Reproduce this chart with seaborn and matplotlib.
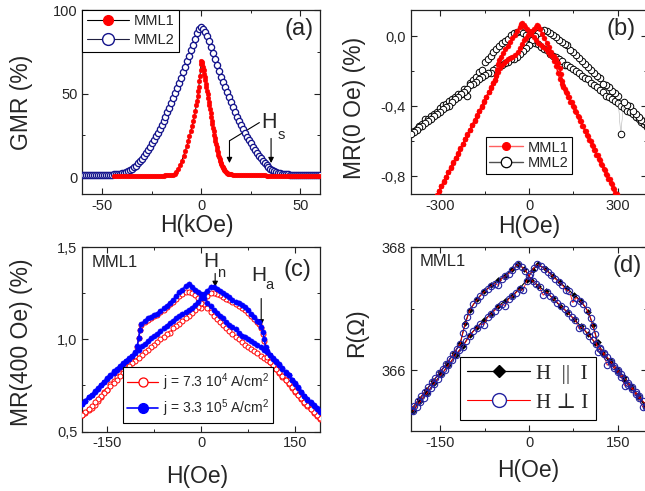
import numpy as np
import matplotlib
matplotlib.use("Agg")
import matplotlib.pyplot as plt
from matplotlib.lines import Line2D
from matplotlib.ticker import MultipleLocator, FuncFormatter
import seaborn as sns

# ---------------- data ----------------
# (a) GMR vs field, kOe
a_mml2_h = list(range(-60, 61))
a_mml2_gmr = [1.1, 1.1, 1.2, 1.2, 1.2, 1.3, 1.3, 1.3, 1.4, 1.4,
              1.4, 1.5, 1.5, 1.5, 1.6, 1.6, 1.7, 1.8, 1.9, 2.1,
              2.3, 2.6, 3.0, 3.5, 4.2, 5.0, 5.9, 7.0, 8.3, 9.7,
              11.2, 12.8, 14.5, 16.4, 18.3, 20.3, 22.3, 24.4, 26.5, 28.8,
              31.1, 33.6, 36.1, 38.9, 41.7, 44.6, 47.6, 50.6, 53.6, 56.6,
              59.6, 62.7, 66.0, 69.3, 72.6, 76.0, 79.3, 82.8, 86.0, 88.4,
              89.6,
              88.8, 87.0, 84.4, 81.2, 77.7, 74.1, 70.6, 67.1, 63.6, 60.2,
              57.0, 53.9, 50.9, 47.9, 44.9, 41.9, 39.0, 36.1, 33.5, 31.0,
              28.6, 26.4, 24.3, 22.3, 20.3, 18.3, 16.4, 14.6, 12.9, 11.3,
              9.8, 8.4, 7.1, 6.0, 5.0, 4.2, 3.5, 3.0, 2.6, 2.3,
              2.1, 1.9, 1.8, 1.7, 1.6, 1.6, 1.5, 1.5, 1.5, 1.4,
              1.4, 1.4, 1.3, 1.3, 1.3, 1.2, 1.2, 1.2, 1.1, 1.1]

a_mml1_h = (list(range(-44, -14))
            + [-14.3, -13.4, -12.6, -11.6, -10.6, -9.8, -8.9, -8.0, -7.2, -6.5,
               -5.9, -5.2, -4.5, -3.9, -3.4, -2.9, -2.5, -2.1, -1.7, -1.4,
               -1.2, -0.9, -0.6, -0.3, -0.1]
            + [0.1, 0.3, 0.6, 0.9, 1.2, 1.5, 1.8, 2.1, 2.4, 2.7,
               3.0, 3.3, 3.6, 3.9, 4.2, 4.5, 4.8, 5.1, 5.4, 5.7,
               6.0, 6.3, 6.6, 6.9, 7.2, 7.5, 7.8, 8.1, 8.4, 8.7,
               9.0, 9.3, 9.6, 9.9, 10.2, 10.5, 10.8, 11.1, 11.4, 11.7,
               12.0, 12.4, 12.8, 13.2, 13.6, 14.0, 14.5, 15.0]
            + list(range(16, 61)))
a_mml1_gmr = ([0.5, 0.5, 0.6, 0.6, 0.6, 0.6, 0.7, 0.7, 0.7, 0.7,
               0.7, 0.8, 0.8, 0.8, 0.8, 0.8, 0.8, 0.9, 0.9, 0.9,
               0.9, 0.9, 1.0, 1.0, 1.0, 1.0, 1.1, 1.1, 1.2, 1.3]
              + [1.4, 2.2, 3.0, 5.0, 7.3, 10.0, 12.9, 15.8, 18.8, 21.8,
                 24.8, 27.8, 30.7, 33.7, 36.7, 39.8, 43.0, 45.8, 48.6, 51.5,
                 54.2, 57.5, 60.5, 64.0, 67.5]
              + [69.8, 69.0, 67.6, 66.0, 64.0, 62.0, 60.0, 58.0, 56.0, 54.0,
                 51.8, 49.6, 47.4, 45.2, 43.0, 40.7, 38.4, 36.1, 33.8, 31.6,
                 29.5, 27.4, 25.4, 23.4, 21.5, 19.7, 18.0, 16.4, 14.9, 13.5,
                 12.2, 11.0, 9.9, 8.8, 7.9, 7.0, 6.2, 5.5, 4.8, 4.2,
                 3.7, 3.2, 2.8, 2.5, 2.2, 2.0, 1.8, 1.7]
              + [1.6, 1.6, 1.5, 1.5, 1.5, 1.4, 1.4, 1.4, 1.3, 1.3,
                 1.3, 1.2, 1.2, 1.2, 1.1, 1.1, 1.1, 1.0, 1.0, 1.0,
                 1.0, 0.9, 0.9, 0.9, 0.9, 0.8, 0.8, 0.8, 0.8, 0.8,
                 0.7, 0.7, 0.7, 0.7, 0.7, 0.6, 0.6, 0.6, 0.6, 0.6,
                 0.6, 0.5, 0.5, 0.5, 0.5])

# (b) MR at low field, Oe
b_mml1_up_h = (list(range(-320, -119, 8)) + [-115, -112, -109, -106, -103]
               + list(range(-96, -31, 8)) + [-26, -24, -18, -12, -6, 0]
               + list(range(8, 81, 8)) + [86, 92, 98, 104, 110, 116]
               + list(range(124, 309, 8)))
b_mml1_up_mr = [-0.937, -0.910, -0.883, -0.856, -0.830, -0.803, -0.776, -0.749, -0.722, -0.696,
                -0.669, -0.642, -0.615, -0.588, -0.562, -0.535, -0.508, -0.481, -0.454, -0.428,
                -0.401, -0.374, -0.347, -0.320, -0.294, -0.267,
                -0.250, -0.220, -0.190, -0.160, -0.135,
                -0.117, -0.096, -0.075, -0.054, -0.033, -0.012, 0.009, 0.030, 0.052,
                0.068, 0.075, 0.065, 0.052, 0.040, 0.028,
                0.012, -0.004, -0.020, -0.036, -0.050, -0.062, -0.075, -0.090, -0.105, -0.120,
                -0.140, -0.170, -0.210, -0.245, -0.270, -0.290,
                -0.318, -0.345, -0.373, -0.400, -0.428, -0.455, -0.483, -0.510, -0.538, -0.566,
                -0.593, -0.620, -0.648, -0.676, -0.703, -0.730, -0.758, -0.786, -0.813, -0.840,
                -0.868, -0.896, -0.923, -0.950]
b_mml1_dn_h = (list(range(312, 119, -8)) + [116, 112, 108, 104, 98, 92, 84]
               + list(range(76, 35, -8)) + [30, 28]
               + [22, 16, 10, 3, -4, -10, -16, -24, -30, -38, -47, -56, -64, -70,
                  -78, -86, -92, -98, -104, -110, -115]
               + list(range(-120, -321, -8)))
b_mml1_dn_mr = [-0.955, -0.927, -0.900, -0.872, -0.845, -0.817, -0.789, -0.762, -0.734, -0.707,
                -0.679, -0.651, -0.624, -0.596, -0.569, -0.541, -0.514, -0.486, -0.458, -0.431,
                -0.403, -0.376, -0.348, -0.321, -0.300,
                -0.285, -0.255, -0.215, -0.180, -0.150, -0.130, -0.112,
                -0.088, -0.062, -0.036, -0.010, 0.015, 0.040,
                0.056, 0.062,
                0.052, 0.042, 0.033, 0.024, 0.008, -0.008, -0.024, -0.045, -0.066, -0.088,
                -0.106, -0.117, -0.124, -0.132, -0.142, -0.154, -0.165, -0.183, -0.203, -0.225,
                -0.248,
                -0.265, -0.291, -0.318, -0.345, -0.372, -0.399, -0.425, -0.452, -0.479, -0.506,
                -0.533, -0.559, -0.586, -0.613, -0.640, -0.667, -0.693, -0.720, -0.747, -0.774,
                -0.801, -0.827, -0.854, -0.881, -0.908, -0.935]

b_mml2_up_h = list(range(-400, 401, 10))
b_mml2_up_mr = [-0.552, -0.538, -0.530, -0.512, -0.498, -0.470, -0.472, -0.455, -0.442, -0.430,
                -0.412, -0.392, -0.385, -0.372, -0.360, -0.345, -0.330, -0.330, -0.298, -0.340,
                -0.268, -0.250, -0.232, -0.205, -0.190, -0.145, -0.130, -0.112, -0.090, -0.072,
                -0.055, -0.040, -0.026, -0.015, 0.006, 0.016, 0.024, 0.030, 0.020, 0.006,
                -0.010, -0.024, -0.036, -0.045, -0.060, -0.074, -0.080, -0.100, -0.110, -0.120,
                -0.130, -0.140, -0.162, -0.165, -0.176, -0.188, -0.200, -0.212, -0.224, -0.236,
                -0.242, -0.264, -0.278, -0.290, -0.304, -0.318, -0.338, -0.344, -0.356, -0.370,
                -0.382, -0.396, -0.410, -0.428, -0.434, -0.446, -0.460, -0.474, -0.490, -0.500,
                -0.515]
b_mml2_dn_h = list(range(400, -401, -10))
b_mml2_dn_mr = [-0.502, -0.486, -0.476, -0.458, -0.444, -0.426, -0.400, -0.390, -0.376, -0.560,
                -0.340, -0.326, -0.310, -0.290, -0.276, -0.270, -0.240, -0.226, -0.210, -0.190,
                -0.176, -0.160, -0.140, -0.126, -0.106, -0.090, -0.076, -0.052, -0.046, -0.030,
                -0.020, -0.006, 0.010, 0.020, 0.030, 0.035, 0.030, 0.018, 0.000, -0.022,
                -0.052, -0.068, -0.084, -0.100, -0.116, -0.128, -0.128, -0.146, -0.155, -0.164,
                -0.172, -0.180, -0.190, -0.210, -0.210, -0.222, -0.235, -0.246, -0.260, -0.272,
                -0.276, -0.300, -0.316, -0.330, -0.345, -0.360, -0.374, -0.398, -0.404, -0.416,
                -0.430, -0.446, -0.456, -0.470, -0.486, -0.496, -0.510, -0.520, -0.536, -0.546,
                -0.560]

# (c) MR(400 Oe), two current densities
c_up_h = list(range(-190, -105, 5)) + [-105, -102, -100, -98, -96] + list(range(-90, 191, 5))
c_dn_h = list(range(190, 105, -5)) + [105, 103, 101, 99, 96, 92] + list(range(90, -191, -5))
c_hi_up = [0.650, 0.665, 0.690, 0.697, 0.715, 0.730, 0.750, 0.770, 0.790, 0.805,
           0.830, 0.840, 0.857, 0.870, 0.885, 0.900, 0.912,
           0.930, 0.965, 1.005, 1.050, 1.085,
           1.100, 1.118, 1.120, 1.130, 1.140, 1.155, 1.170, 1.180, 1.200, 1.215,
           1.235, 1.255, 1.270, 1.290, 1.300,
           1.285, 1.270, 1.255, 1.245, 1.225, 1.200, 1.180, 1.162, 1.145, 1.125,
           1.115, 1.095, 1.080, 1.065, 1.055, 1.035, 1.020, 1.012, 1.000, 0.990,
           0.980, 0.970, 0.958, 0.945, 0.930,
           0.915, 0.895, 0.880, 0.863, 0.840, 0.820, 0.805, 0.777, 0.757, 0.735,
           0.712, 0.695, 0.673, 0.655, 0.640, 0.622, 0.605]
c_hi_dn = [0.612, 0.628, 0.645, 0.660, 0.678, 0.695, 0.717, 0.740, 0.762, 0.782,
           0.805, 0.825, 0.845, 0.868, 0.885, 0.900, 0.918,
           0.935, 0.960, 1.000, 1.040, 1.070, 1.094,
           1.100, 1.120, 1.140, 1.158, 1.176, 1.185, 1.195, 1.205, 1.215, 1.228,
           1.240, 1.250, 1.262, 1.272, 1.282, 1.285,
           1.265, 1.245, 1.225, 1.205, 1.185, 1.172, 1.160, 1.150, 1.140, 1.125,
           1.115, 1.100, 1.090, 1.075, 1.060, 1.045, 1.030, 1.020, 1.005, 0.990,
           0.975, 0.965, 0.945, 0.925, 0.910,
           0.896, 0.882, 0.868, 0.852, 0.835, 0.818, 0.800, 0.786, 0.768, 0.752,
           0.735, 0.718, 0.700, 0.685, 0.668, 0.652]
c_lo_up = [0.590, 0.600, 0.615, 0.630, 0.645, 0.665, 0.690, 0.715, 0.725, 0.758,
           0.775, 0.795, 0.815, 0.830, 0.850, 0.868, 0.885,
           0.910, 0.960, 1.010, 1.050, 1.080,
           1.095, 1.105, 1.115, 1.125, 1.135, 1.148, 1.160, 1.175, 1.190, 1.205,
           1.220, 1.235, 1.248, 1.258, 1.260,
           1.250, 1.240, 1.225, 1.170, 1.190, 1.168, 1.148, 1.128, 1.110, 1.095,
           1.078, 1.060, 1.045, 1.030, 1.015, 1.000, 0.985, 0.972, 0.960, 0.948,
           0.935, 0.925, 0.912, 0.900, 0.890,
           0.878, 0.862, 0.840, 0.818, 0.798, 0.778, 0.757, 0.737, 0.717, 0.697,
           0.677, 0.655, 0.638, 0.620, 0.602, 0.586, 0.570]
c_lo_dn = [0.575, 0.590, 0.606, 0.624, 0.642, 0.660, 0.680, 0.700, 0.720, 0.740,
           0.762, 0.782, 0.800, 0.822, 0.842, 0.862, 0.880,
           0.905, 0.945, 0.990, 1.030, 1.060, 1.085,
           1.092, 1.110, 1.128, 1.145, 1.160, 1.172, 1.182, 1.192, 1.202, 1.212,
           1.222, 1.232, 1.240, 1.248, 1.252, 1.250,
           1.235, 1.215, 1.195, 1.175, 1.158, 1.142, 1.128, 1.115, 1.100, 1.085,
           1.072, 1.060, 1.035, 1.030, 1.015, 1.000, 0.985, 0.972, 0.958, 0.945,
           0.930, 0.915, 0.900, 0.885, 0.872,
           0.855, 0.838, 0.820, 0.800, 0.782, 0.764, 0.745, 0.728, 0.710, 0.692,
           0.675, 0.658, 0.640, 0.624, 0.608, 0.592]

# (d) resistance, two field orientations
d_up_h = (list(range(-200, -115, 6)) + [-112, -108, -104, -100]
          + list(range(-94, -17, 6)) + [-18] + list(range(-12, 199, 6)))
d_dn_h = (list(range(198, 115, -6)) + [116, 112, 108, 104]
          + list(range(98, 13, -6)) + list(range(8, -113, -6)) + list(range(-118, -201, -6)))
d_perp_up = [365.35, 365.42, 365.50, 365.57, 365.65, 365.72, 365.80, 365.87, 365.95, 366.02,
             366.10, 366.18, 366.26, 366.35, 366.43,
             366.60, 366.74, 366.86, 366.97,
             367.07, 367.14, 367.21, 367.27, 367.32, 367.37, 367.41, 367.38, 367.49, 367.53,
             367.57, 367.63, 367.70,
             367.72,
             367.68, 367.62, 367.54, 367.45, 367.40, 367.35, 367.22, 367.27, 367.21, 367.15,
             367.10, 367.04, 366.99, 366.93, 366.87, 366.82, 366.68, 366.70, 366.63, 366.56,
             366.49, 366.42, 366.34, 366.26, 366.08, 366.11, 366.03, 365.96, 365.89, 365.74,
             365.76, 365.69, 365.61, 365.54, 365.40, 365.39]
d_perp_dn = [365.42, 365.50, 365.57, 365.64, 365.72, 365.79, 365.86, 365.93, 366.00, 366.07,
             366.14, 366.21, 366.28, 366.36,
             366.30, 366.58, 366.72, 366.85,
             366.98, 367.07, 367.13, 367.18, 367.10, 367.29, 367.30, 367.39, 367.44, 367.49,
             367.55, 367.60, 367.65, 367.69, 367.72,
             367.66, 367.56, 367.45, 367.30, 367.32, 367.26, 367.20, 367.16, 367.05, 367.07,
             367.03, 366.97, 366.91, 366.86, 366.74, 366.75, 366.69, 366.63, 366.56, 366.47,
             366.38,
             366.32, 366.24, 366.16, 366.08, 366.00, 365.93, 365.85, 365.78, 365.70, 365.63,
             365.55, 365.48, 365.40, 365.33]
d_par_up_h = [-198, -186, -174, -162, -150, -138, -126, -116, -108, -100, -88, -76, -64, -52,
              -40, -28, -18, -8, 4, 16, 28, 40, 52, 64, 76, 88, 100, 112, 124, 136, 148, 160,
              172, 184, 196]
d_par_up = [365.37, 365.52, 365.67, 365.82, 365.97, 366.12, 366.28, 366.44, 366.76, 366.98,
            367.15, 367.28, 367.38, 367.46, 367.54, 367.64, 367.72, 367.65, 367.47, 367.37,
            367.28, 367.17, 367.05, 366.95, 366.83, 366.71, 366.58, 366.44, 366.28, 366.13,
            365.98, 365.84, 365.71, 365.56, 365.42]
d_par_dn_h = [196, 184, 172, 160, 148, 136, 124, 116, 108, 100, 88, 76, 64, 52, 40, 28, 16, 6,
              -4, -16, -28, -40, -52, -64, -76, -88, -100, -112, -124, -136, -148, -160, -172,
              -184, -196]
d_par_dn = [365.44, 365.59, 365.74, 365.88, 366.02, 366.16, 366.30, 366.45, 366.73, 366.95,
            367.12, 367.23, 367.33, 367.43, 367.54, 367.64, 367.72, 367.63, 367.46, 367.33,
            367.21, 367.13, 367.04, 366.92, 366.81, 366.70, 366.57, 366.39, 366.24, 366.08,
            365.93, 365.79, 365.63, 365.49, 365.34]

# ---------------- style ----------------
sns.set_theme(style="ticks")
plt.rcParams["font.family"] = ["Liberation Sans", "DejaVu Sans"]
plt.rcParams["axes.unicode_minus"] = False
plt.rcParams["mathtext.default"] = "regular"

W, H = 645, 491
fig = plt.figure(figsize=(W / 100, H / 100), dpi=100)
fig.patch.set_facecolor("white")


def px_axes(left, top, right, bottom):
    return fig.add_axes([left / W, 1 - bottom / H, (right - left) / W, (bottom - top) / H])


ax_a = px_axes(82.3, 10, 320, 194)
ax_b = px_axes(410.6, 10, 647.4, 194)
ax_c = px_axes(82.3, 247.3, 320, 431.5)
ax_d = px_axes(410.6, 247.3, 647.4, 431.4)

comma = FuncFormatter(lambda v, p: f"{v:.1f}".replace(".", ","))
plain = FuncFormatter(lambda v, p: f"{v:.0f}")

for ax in (ax_a, ax_b, ax_c, ax_d):
    ax.set_facecolor("white")
    for s in ax.spines.values():
        s.set_color("#222222")
        s.set_linewidth(0.9)
    ax.tick_params(which="both", direction="in", top=True, right=True,
                   color="#222222", labelsize=10.5, pad=3.5)
    ax.tick_params(which="major", length=4, width=0.8)
    ax.tick_params(which="minor", length=2.3, width=0.7)
    ax.grid(False)


def trace(ax, h, v, **kw):
    sns.lineplot(x=h, y=v, ax=ax, sort=False, estimator=None, legend=False, **kw)


# ---------------- (a) ----------------
NAVY = "#14148c"
trace(ax_a, a_mml2_h, a_mml2_gmr, color="#202040", linewidth=0.6, marker="o",
      markersize=4.5, markerfacecolor="white", markeredgecolor=NAVY, markeredgewidth=0.95, zorder=3)
trace(ax_a, a_mml1_h, a_mml1_gmr, color="black", linewidth=0.7, marker="o",
      markersize=3.4, markerfacecolor="red", markeredgecolor="red", markeredgewidth=0.3, zorder=4)
ax_a.set_xlim(-60, 60)
ax_a.set_ylim(-10, 100)
ax_a.xaxis.set_major_locator(MultipleLocator(50))
ax_a.xaxis.set_minor_locator(MultipleLocator(25))
ax_a.yaxis.set_major_locator(MultipleLocator(50))
ax_a.yaxis.set_minor_locator(MultipleLocator(25))
ax_a.xaxis.set_major_formatter(plain)
ax_a.yaxis.set_major_formatter(plain)
ax_a.set_xlabel("")
ax_a.set_ylabel("")
leg_a = ax_a.legend(
    handles=[Line2D([], [], color="black", lw=0.8, marker="o", ms=7, mfc="red", mec="red"),
             Line2D([], [], color="#202040", lw=0.8, marker="o", ms=8.5, mfc="white",
                    mec=NAVY, mew=1.0)],
    labels=["MML1", "MML2"], loc="upper left", bbox_to_anchor=(0, 1), borderaxespad=0,
    fontsize=10.5, handlelength=2.9, handletextpad=0.35, labelspacing=0.35, borderpad=0.3,
    fancybox=False, framealpha=1, edgecolor="black")
leg_a.get_frame().set_linewidth(0.8)

# H_s markers
ax_a.text(34.4, 32.9, "H", fontsize=15.5, ha="center", va="center")
ax_a.text(40.3, 25.0, "s", fontsize=10.5, ha="center", va="center")
ax_a.plot([29.4, 14.3], [32.7, 21.8], color="black", lw=0.8)
for xa, y0 in ((14.3, 21.8), (35.3, 23.2)):
    ax_a.annotate("", xy=(xa, 8.5), xytext=(xa, y0),
                  arrowprops=dict(arrowstyle="-|>", color="black", lw=0.8,
                                  mutation_scale=8, shrinkA=0, shrinkB=0))

# ---------------- (b) ----------------
for h, v in ((b_mml2_up_h, b_mml2_up_mr), (b_mml2_dn_h, b_mml2_dn_mr)):
    trace(ax_b, h, v, color="#9a9a9a", linewidth=0.3, marker="o", markersize=4.7,
          markerfacecolor="white", markeredgecolor="black", markeredgewidth=0.7, zorder=3)
for h, v in ((b_mml1_up_h, b_mml1_up_mr), (b_mml1_dn_h, b_mml1_dn_mr)):
    trace(ax_b, h, v, color="red", linewidth=1.0, marker="o", markersize=3.6,
          markerfacecolor="red", markeredgecolor="red", markeredgewidth=0.3, zorder=4)
ax_b.set_xlim(-400, 400)
ax_b.set_ylim(-0.9, 0.15)
ax_b.xaxis.set_major_locator(MultipleLocator(300))
ax_b.xaxis.set_minor_locator(MultipleLocator(150))
ax_b.yaxis.set_major_locator(MultipleLocator(0.4))
ax_b.yaxis.set_minor_locator(MultipleLocator(0.2))
ax_b.xaxis.set_major_formatter(plain)
ax_b.yaxis.set_major_formatter(comma)
ax_b.set_xlabel("")
ax_b.set_ylabel("")
leg_b = ax_b.legend(
    handles=[Line2D([], [], color="#ff6060", lw=1.0, marker="o", ms=5.5, mfc="red", mec="red"),
             Line2D([], [], color="#505050", lw=1.0, marker="o", ms=7.5, mfc="white",
                    mec="black", mew=0.9)],
    labels=["MML1", "MML2"], loc="lower left", bbox_to_anchor=(0.317, 0.109), borderaxespad=0,
    fontsize=10.5, handlelength=2.3, handletextpad=0.35, labelspacing=0.12, borderpad=0.25,
    fancybox=False, framealpha=1, edgecolor="black")
leg_b.get_frame().set_linewidth(0.8)

# ---------------- (c) ----------------
for h, v in ((c_up_h, c_lo_up), (c_dn_h, c_lo_dn)):
    trace(ax_c, h, v, color="red", linewidth=0.7, marker="o", markersize=3.6,
          markerfacecolor="white", markeredgecolor="red", markeredgewidth=0.7, zorder=3)
for h, v in ((c_up_h, c_hi_up), (c_dn_h, c_hi_dn)):
    trace(ax_c, h, v, color="blue", linewidth=1.2, marker="o", markersize=3.8,
          markerfacecolor="blue", markeredgecolor="blue", markeredgewidth=0.3, zorder=4)
ax_c.set_xlim(-190, 190)
ax_c.set_ylim(0.5, 1.5)
ax_c.xaxis.set_major_locator(MultipleLocator(150))
ax_c.xaxis.set_minor_locator(MultipleLocator(75))
ax_c.yaxis.set_major_locator(MultipleLocator(0.5))
ax_c.yaxis.set_minor_locator(MultipleLocator(0.25))
ax_c.xaxis.set_major_formatter(plain)
ax_c.yaxis.set_major_formatter(comma)
ax_c.set_xlabel("")
ax_c.set_ylabel("")
leg_c = ax_c.legend(
    handles=[Line2D([], [], color="red", lw=0.9, marker="o", ms=6.5, mfc="white", mec="red",
                    mew=0.9),
             Line2D([], [], color="blue", lw=1.2, marker="o", ms=7, mfc="blue", mec="blue")],
    labels=[r"j = 7.3 10$^{4}$ A/cm$^{2}$", r"j = 3.3 10$^{5}$ A/cm$^{2}$"],
    loc="lower left", bbox_to_anchor=(0.1725, 0.0445), borderaxespad=0,
    fontsize=10, handlelength=2.2, handletextpad=0.35, labelspacing=0.35, borderpad=0.3,
    fancybox=False, framealpha=1, edgecolor="black")
leg_c.get_frame().set_linewidth(0.8)
ax_c.text(0.04, 0.918, "MML1", transform=ax_c.transAxes, fontsize=12, ha="left", va="center")
ax_c.text(16, 1.425, "H", fontsize=15, ha="center", va="center")
ax_c.text(31.2, 1.36, "n", fontsize=10.5, ha="center", va="center")
ax_c.text(92.8, 1.348, "H", fontsize=15, ha="center", va="center")
ax_c.text(109.6, 1.294, "a", fontsize=10.5, ha="center", va="center")
for xa, y0, y1 in ((22.4, 1.358, 1.285), (96, 1.222, 1.076)):
    ax_c.annotate("", xy=(xa, y1), xytext=(xa, y0),
                  arrowprops=dict(arrowstyle="-|>", color="black", lw=0.8,
                                  mutation_scale=8, shrinkA=0, shrinkB=0))

# ---------------- (d) ----------------
for h, v in ((d_par_up_h, d_par_up), (d_par_dn_h, d_par_dn)):
    trace(ax_d, h, v, color="black", linewidth=0.8, marker="D", markersize=3.0,
          markerfacecolor="black", markeredgecolor="black", markeredgewidth=0.3, zorder=2)
for h, v in ((d_up_h, d_perp_up), (d_dn_h, d_perp_dn)):
    trace(ax_d, h, v, color="red", linewidth=0.6, zorder=3)
    trace(ax_d, h, v, color="none", linewidth=0, marker="o", markersize=4.6,
          markerfacecolor="none", markeredgecolor="#2323a0", markeredgewidth=0.8, zorder=4)
ax_d.set_xlim(-200, 200)
ax_d.set_ylim(365, 368)
ax_d.xaxis.set_major_locator(MultipleLocator(150))
ax_d.xaxis.set_minor_locator(MultipleLocator(75))
ax_d.yaxis.set_major_locator(MultipleLocator(2))
ax_d.yaxis.set_minor_locator(MultipleLocator(1))
ax_d.xaxis.set_major_formatter(plain)
ax_d.yaxis.set_major_formatter(plain)
ax_d.set_xlabel("")
ax_d.set_ylabel("")
leg_d = ax_d.legend(
    handles=[Line2D([], [], color="black", lw=0.9, marker="D", ms=6.5, mfc="black", mec="black"),
             Line2D([], [], color="red", lw=0.8, marker="o", ms=10, mfc="white",
                    mec="#2323a0", mew=1.0)],
    labels=["H  ||  I", "H \u22a5 I"], loc="lower left", bbox_to_anchor=(0.2086, 0.062),
    borderaxespad=0, handlelength=3.0, handletextpad=0.3, labelspacing=0.45, borderpad=0.35,
    prop={"family": ["Liberation Serif", "DejaVu Serif"], "size": 15},
    fancybox=False, framealpha=1, edgecolor="black")
leg_d.get_frame().set_linewidth(0.8)
ax_d.text(0.04, 0.922, "MML1", transform=ax_d.transAxes, fontsize=12, ha="left", va="center")

# panel letters
for ax, lab, xx, yy in ((ax_a, "(a)", 0.912, 0.897), (ax_b, "(b)", 0.889, 0.897),
                        (ax_c, "(c)", 0.907, 0.877), (ax_d, "(d)", 0.914, 0.898)):
    ax.text(xx, yy, lab, transform=ax.transAxes, fontsize=17, ha="center", va="center")


# axis titles placed by pixel centre
def ftext(x, y, s, rot=0):
    fig.text(x / W, 1 - y / H, s, fontsize=16.5, ha="center", va="center", rotation=rot)


ftext(21.7, 102, "GMR (%)", 90)
ftext(355, 108, "MR(0 Oe) (%)", 90)
ftext(21.7, 342, "MR(400 Oe) (%)", 90)
ftext(356.7, 333, "R(\u03a9)", 90)
ftext(197, 225, "H(kOe)")
ftext(529, 226, "H(Oe)")
ftext(197.5, 476, "H(Oe)")
ftext(528, 471, "H(Oe)")

fig.savefig("out.png", dpi=100, facecolor="white")
